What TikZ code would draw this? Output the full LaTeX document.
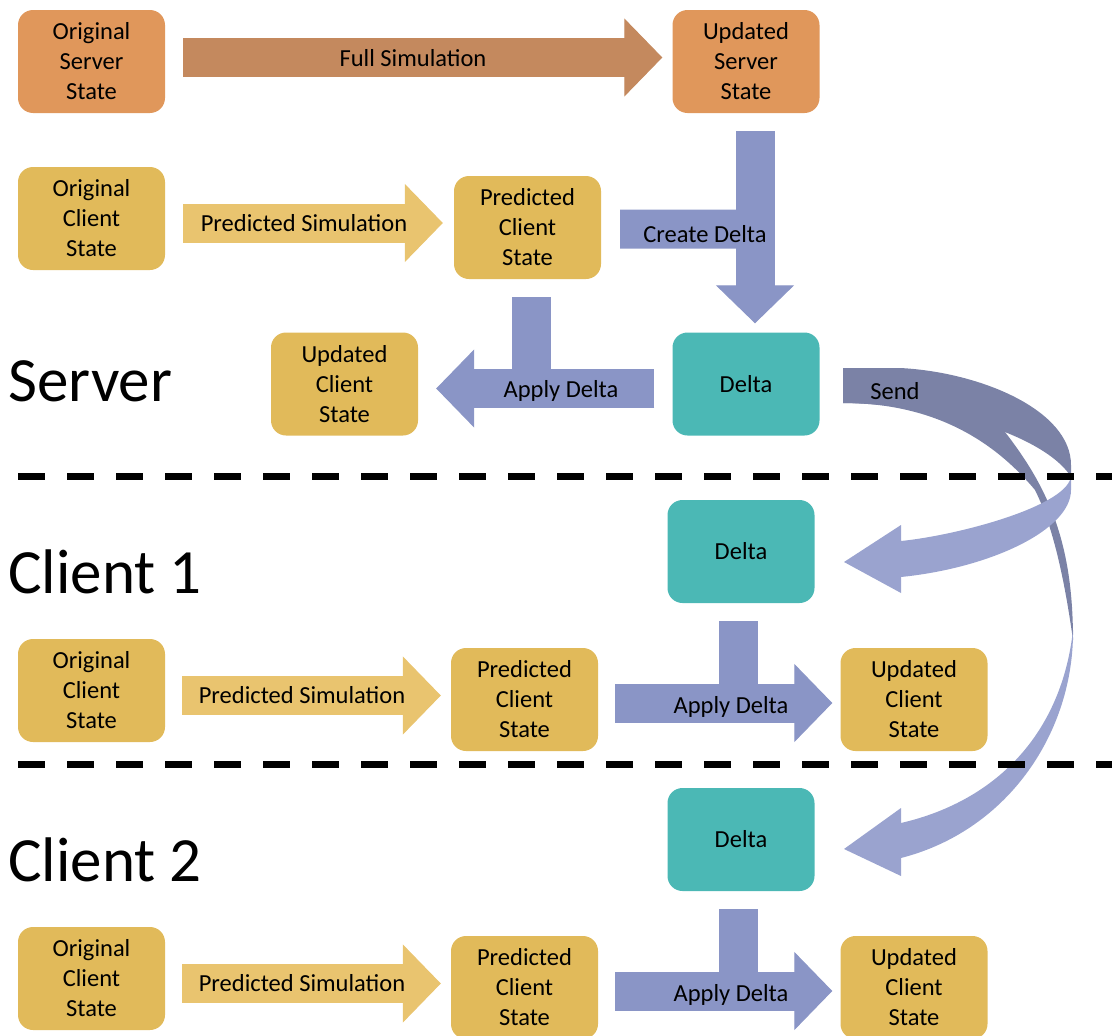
\documentclass[tikz,border=0pt]{standalone}
\usepackage{fontspec}
\setmainfont{Carlito}
\usetikzlibrary{arrows.meta,calc}
\definecolor{srvbox}{RGB}{224,151,91}
\definecolor{srvarrow}{RGB}{196,137,94}
\definecolor{clibox}{RGB}{225,186,90}
\definecolor{cliarrow}{RGB}{233,196,111}
\definecolor{deltabox}{RGB}{75,184,181}
\definecolor{deltaarrow}{RGB}{138,149,198}
\definecolor{senddark}{RGB}{123,130,166}
\definecolor{sendlight}{RGB}{154,163,207}

\begin{document}
\begin{tikzpicture}[x=1pt,y=1pt,yscale=-1,
  statebox/.style={rounded corners=15pt,minimum width=147pt,minimum height=103pt,inner sep=0pt,align=center,font=\fontsize{24.5}{30}\selectfont},
  blockarrow/.style={line width=39pt,-{Triangle[length=38pt,width=78pt,line width=1pt]}},
  blockbar/.style={line width=39pt},
  tag/.style={anchor=base,inner sep=0pt,font=\fontsize{24.5}{30}\selectfont},
  role/.style={anchor=base west,inner sep=0pt,font=\fontsize{63}{70}\selectfont},
  divider/.style={line width=7pt,dash pattern=on 27pt off 22pt}]
\useasboundingbox (0,0) rectangle (1112,1036);

%Server states
\node[statebox,fill=srvbox] (oss) at (91.5,61.5) {Original\\Server\\State};
\node[statebox,fill=srvbox] (uss) at (746,61.5) {Updated\\Server\\State};
\node[statebox,fill=clibox] (ocs) at (91.5,218.5) {Original\\Client\\State};
\node[statebox,fill=clibox] (pcs) at (527.5,227.5) {Predicted\\Client\\State};
\node[statebox,fill=deltabox] (sdelta) at (746,384) {Delta};
\node[statebox,fill=clibox] (ucs) at (344.5,384) {Updated\\Client\\State};

%Client 1 states
\node[statebox,fill=deltabox] (cd1) at (741,551.5) {Delta};
\node[statebox,fill=clibox] (oc1) at (91.5,690.5) {Original\\Client\\State};
\node[statebox,fill=clibox] (pc1) at (524.5,699.5) {Predicted\\Client\\State};
\node[statebox,fill=clibox] (uc1) at (914,699.5) {Updated\\Client\\State};

%Client 2 states
\node[statebox,fill=deltabox] (cd2) at (741,839.5) {Delta};
\node[statebox,fill=clibox] (oc2) at (91.5,978.5) {Original\\Client\\State};
\node[statebox,fill=clibox] (pc2) at (524.5,987.5) {Predicted\\Client\\State};
\node[statebox,fill=clibox] (uc2) at (914,987.5) {Updated\\Client\\State};

%Block arrows, server
\draw[blockarrow,srvarrow] ($(oss.east)+(18,-4)$) -- ($(uss.west)+(-10,-4)$);
\draw[blockarrow,cliarrow] ($(ocs.east)+(18,4.5)$) -- ($(pcs.west)+(-11,-4.5)$);
\draw[blockbar,deltaarrow] ($(pcs.east)+(19,1.5)$) -- ($(uss.south)+(9,116)$);
\draw[blockarrow,deltaarrow] ($(uss.south)+(9,18)$) -- ($(sdelta.north)+(9,-9)$);
\draw[blockbar,deltaarrow] ($(pcs.south)+(3.5,18)$) -- ($(pcs.south)+(3.5,109.5)$);
\draw[blockarrow,deltaarrow] ($(sdelta.west)+(-18,4.5)$) -- ($(ucs.east)+(18,4.5)$);

%Block arrows, client 1
\draw[blockarrow,cliarrow] ($(oc1.east)+(17,5)$) -- ($(pc1.west)+(-10,-4)$);
\draw[blockbar,deltaarrow] ($(cd1.south)+(-3,18)$) -- ($(cd1.south)+(-3,100)$);
\draw[blockarrow,deltaarrow] ($(pc1.east)+(17,3.5)$) -- ($(uc1.west)+(-8,3.5)$);

%Block arrows, client 2
\draw[blockarrow,cliarrow] ($(oc2.east)+(17,5)$) -- ($(pc2.west)+(-10,-4)$);
\draw[blockbar,deltaarrow] ($(cd2.south)+(-3,18)$) -- ($(cd2.south)+(-3,100)$);
\draw[blockarrow,deltaarrow] ($(pc2.east)+(17,3.5)$) -- ($(uc2.west)+(-8,3.5)$);

%Shape: Curved Arrow to client 2
\fill[senddark] (843,368) -- (870,368) .. controls (940,368) and (980,400) .. (1005,432) .. controls (1050,490) and (1073,545) .. (1073,640) .. controls (1066,590) and (1055,530) .. (1035,490) .. controls (985,430) and (920,403) .. (843,403) -- cycle;
\fill[sendlight] (1073,630) .. controls (1074,730) and (1010,830) .. (901,858) -- (901,876) -- (844,849) -- (901,808) -- (901,823) .. controls (1000,800) and (1062,730) .. (1073,630) -- cycle;
%Shape: Curved Arrow to client 1
\fill[senddark] (843,368) -- (900,368) .. controls (980,372) and (1071,410) .. (1071,465) -- (1071,477) .. controls (1050,442) and (960,405) .. (843,403) -- cycle;
\fill[sendlight] (1071,475) .. controls (1071,505) and (960,535) .. (901,541) -- (901,525) -- (844,562) -- (901,593) -- (901,577) .. controls (990,568) and (1071,530) .. (1071,490) -- cycle;

% Text Node
\node[tag] (fullsim) at (413,66) {Full Simulation};
\node[tag] (predsim) at (304,231) {Predicted Simulation};
\node[tag] (create) at (705,242) {Create Delta};
\node[tag] (sapply) at (561,397) {Apply Delta};
\node[tag] (send) at (895,399) {Send};
\node[tag] (predsim1) at (302,703) {Predicted Simulation};
\node[tag] (apply1) at (731,713) {Apply Delta};
\node[tag] (predsim2) at (302,991) {Predicted Simulation};
\node[tag] (apply2) at (731,1001) {Apply Delta};

% Text Node
\node[role] (server) at (8,401) {Server};
\node[role] (client1) at (8,593) {Client 1};
\node[role] (client2) at (8,881) {Client 2};

%Dashed separators
\draw[divider] (18,476) -- (1112,476);
\draw[divider] (18,764) -- (1112,764);

\end{tikzpicture}
\end{document}
